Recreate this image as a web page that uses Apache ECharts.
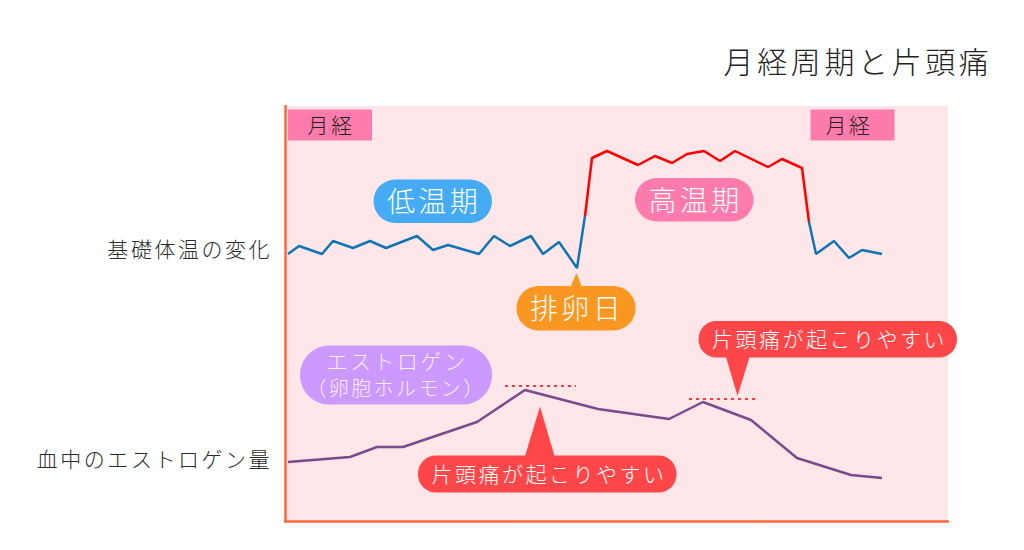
<!DOCTYPE html>
<html style="height: 100%">
<head>
    <meta charset="utf-8">
    <style>
        /* glyphs in the original are spaced out a little */
        #container text { letter-spacing: 0.12em; }
    </style>
</head>
<body style="height: 100%; margin: 0; background: #fff">
<div id="container" style="width: 1024px; height: 550px"></div>

<script type="text/javascript" src="https://cdn.jsdelivr.net/npm/echarts@6/dist/echarts.min.js"></script>
<script type="text/javascript">
    // values, [position in cycle, level]
    var tempLowBefore = [[3,267],[14,275],[37,267],[48,280],[68,273],[85,280],[101,273],[132,285],[148,271],[163,276],[194,267],[209,285],[225,275],[246,285],[258,267],[274,279],[292,253],[300,305]];
    var tempHigh = [[300,305],[307,363],[322,370],[353,356],[370,365],[387,358],[402,367],[419,370],[435,360],[450,370],[483,354],[497,362],[517,353],[524,299]];
    var tempLowAfter = [[524,299],[531,267],[549,280],[564,263],[577,271],[597,267]];
    var estrogen = [[3,59],[65,64],[92,74],[118,74],[192,99],[240,131],[313,112],[384,102],[418,119],[466,101],[512,63],[566,46],[597,43]];
    var migraineLine1 = [[220,135],[291,135]];
    var migraineLine2 = [[404,122],[474,122]];
    var rowLabels = { 273: '基礎体温の変化', 63: '血中のエストロゲン量' };

    var FONT = '"Noto Sans CJK JP", "Noto Sans", sans-serif';
    var dom = document.getElementById('container');
    var myChart = echarts.init(dom, null, { renderer: 'svg' });

    function label(x, y, text, size, color) {
        return {
            type: 'text', z: 20, x: x, y: y,
            style: { text: text, fontFamily: FONT, fontSize: size, fontWeight: 300, fill: color, align: 'center', verticalAlign: 'middle' }
        };
    }
    function box(x0, x1, y0, y1, color, r) {
        return { type: 'rect', z: 10, shape: { x: x0, y: y0, width: x1 - x0, height: y1 - y0, r: r }, style: { fill: color } };
    }
    function tri(points, color) {
        return { type: 'polygon', z: 10, shape: { points: points }, style: { fill: color } };
    }
    function line(data, color, dotted) {
        return {
            type: 'line', data: data, symbol: 'none', silent: true,
            lineStyle: { color: color, width: dotted ? 1.5 : 2.5, type: dotted ? [3, 4] : 'solid' }
        };
    }

    var option = {
        animation: false,
        grid: { show: true, left: 285, right: 76, top: 106, bottom: 29, backgroundColor: '#FFE6E8', borderWidth: 0 },
        xAxis: {
            type: 'value', min: 0, max: 663,
            axisLine: { lineStyle: { color: '#F96A3A', width: 2.5 } },
            axisTick: { show: false }, axisLabel: { show: false }, splitLine: { show: false }
        },
        yAxis: {
            type: 'value', min: 0, max: 415,
            axisLine: { show: true, lineStyle: { color: '#F96A3A', width: 2.5 } },
            axisTick: { show: false }, splitLine: { show: false },
            axisLabel: {
                customValues: [63, 273], margin: 13, color: '#2B2B2B', fontFamily: FONT, fontSize: 21, fontWeight: 300,
                formatter: function (v) { return rowLabels[v]; }
            }
        },
        series: [
            line(tempLowBefore, '#0F75B5'),
            line(tempHigh, '#FF0000'),
            line(tempLowAfter, '#0F75B5'),
            line(estrogen, '#7B4A8C'),
            line(migraineLine1, '#FF0000', true),
            line(migraineLine2, '#FF0000', true)
        ],
        graphic: [
            label(858, 59.5, '月経周期と片頭痛', 30, '#222'),

            box(288, 372, 109.5, 140.5, '#FF7BAC', 0),
            label(331, 123.5, '月経', 21, '#222'),
            box(810.5, 894.5, 109.5, 140.5, '#FF7BAC', 0),
            label(849, 123.5, '月経', 21, '#222'),

            box(373.5, 492, 179.5, 223, '#45ABF5', 22),
            label(434, 199.5, '低温期', 28, '#fff'),
            box(635, 753.5, 178, 221.5, '#FF7BAC', 22),
            label(695.5, 198.5, '高温期', 28, '#fff'),

            box(516.5, 635.5, 286, 330.5, '#F99720', 22),
            tri([[576.5, 273], [570.5, 287], [582, 287]], '#F99720'),
            label(577, 306.5, '排卵日', 28, '#fff'),

            box(300, 492, 345.5, 404.5, '#CC99FF', 29),
            label(397, 359.5, 'エストロゲン', 21, '#F7EDFF'),
            label(396, 387, '（卵胞ホルモン）', 20, '#F7EDFF'),

            box(418, 676.5, 455.5, 492.5, '#FF474A', 18),
            tri([[540, 406.5], [525, 456], [554.5, 456]], '#FF474A'),
            label(549, 472.5, '片頭痛が起こりやすい', 21, '#fff'),

            box(698.5, 957, 321, 357.5, '#FF474A', 18),
            tri([[726, 357], [749.5, 357], [737.5, 396]], '#FF474A'),
            label(829.5, 337.5, '片頭痛が起こりやすい', 21, '#fff')
        ]
    };
    myChart.setOption(option);
</script>
</body>
</html>
